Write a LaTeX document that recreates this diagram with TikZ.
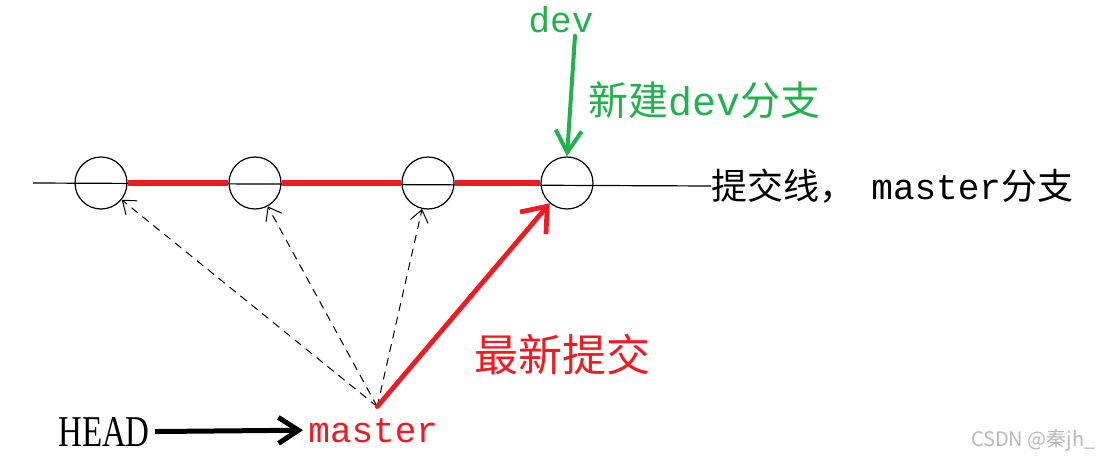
\documentclass[tikz,border=0pt]{standalone}
\usepackage{fontspec}
\setmainfont{Liberation Serif}
\setmonofont{Liberation Mono}
\newfontfamily\cjk{Noto Sans CJK SC}
\usetikzlibrary{positioning,arrows.meta}
\definecolor{gitred}{RGB}{237,28,36}
\definecolor{gitgreen}{RGB}{34,177,76}
\definecolor{wmgray}{RGB}{185,185,185}

\begin{document}
\begin{tikzpicture}[x=0.5pt,y=-0.5pt]
  % styles
  \tikzset{
    v/.style={circle, draw=black, line width=0.6pt, minimum size=26pt, inner sep=0pt},
    e/.style={draw=black, line width=0.6pt},
    re/.style={draw=gitred, line width=2.6pt},
    dsh/.style={draw=black, line width=0.5pt, dash pattern=on 4pt off 3pt,
      -{Straight Barb[length=6pt,width=9pt]}},
    rarr/.style={draw=gitred, line width=2.4pt, line cap=round,
      -{Straight Barb[length=11pt,width=17pt]}},
    garr/.style={draw=gitgreen, line width=2pt, line cap=round,
      -{Straight Barb[length=11pt,width=13pt]}},
    harr/.style={draw=black, line width=2.5pt,
      -{Straight Barb[length=10pt,width=13pt]}}
  }
  \useasboundingbox (0,0) rectangle (1102,465);

  % commits (four circles on the commit line)
  \node[v] (c1) at (101,183) {};
  \node[v] (c2) at (255,183) {};
  \node[v] (c3) at (428,183) {};
  \node[v] (c4) at (567,183) {};

  % labels
  \coordinate (lstart) at (33,183);
  \node[anchor=west, inner sep=0pt, font=\fontsize{18}{18}\selectfont] (mline) at (711,186)
    {{\cjk 提交线，}\hspace{8pt}\texttt{master}{\cjk 分支}};
  \node[text=gitgreen, inner sep=1pt, font=\fontsize{18}{18}\selectfont\ttfamily] (dev) at (561,20) {dev};
  \node[anchor=west, text=gitgreen, inner sep=0pt, font=\fontsize{20}{20}\selectfont\cjk] (newdev) at (588,100)
    {新建\texttt{dev}分支};
  \node[text=gitred, inner sep=0pt, font=\fontsize{22}{22}\selectfont\cjk] (latest) at (562,355) {最新提交};
  \node[anchor=base west, text=gitred, inner sep=2.5pt, font=\fontsize{18}{18}\selectfont\ttfamily] (master) at (303,442) {master};
  \node[inner sep=2.5pt, font=\fontsize{22}{22}\selectfont] (head) at (104,432) {\scalebox{0.75}[1]{HEAD}};
  \node[anchor=east, text=wmgray, inner sep=0pt, font=\fontsize{10}{10}\selectfont\cjk] (mark) at (1096,441) {CSDN @秦jh\_};
  \coordinate[above=3pt of master, xshift=2pt] (mtop);

  % commit line
  \draw[e] (lstart) -- (mline.west);
  \draw[re] (c1.east) -- (c2.west);
  \draw[re] (c2.east) -- (c3.west);
  \draw[re] (c3.east) -- (c4.west);

  % pointers
  \draw[dsh] (mtop) -- (c1);
  \draw[dsh] (mtop) -- (c2);
  \draw[dsh] (mtop) -- (c3);
  \draw[rarr] (mtop) -- (c4);
  \draw[garr] ([xshift=7pt]dev.south) -- (c4.north);
  \draw[harr] (head) -- (master.west);
\end{tikzpicture}
\end{document}
